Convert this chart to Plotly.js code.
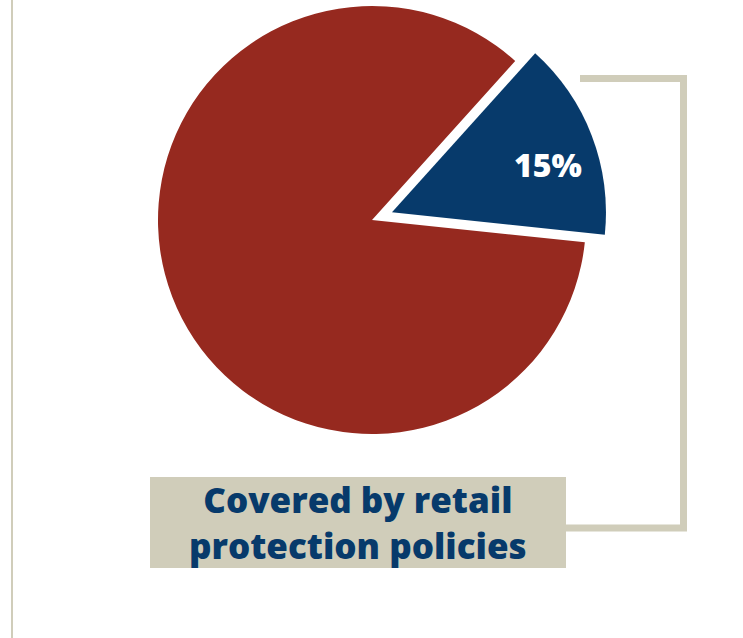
<!DOCTYPE html>
<html>
<head>
<meta charset="utf-8">
<script src="https://cdn.plot.ly/plotly-3.0.1.min.js"></script>
<style>
  html, body { margin: 0; padding: 0; background: #ffffff; overflow: hidden; }
  #chart { position: absolute; left: 0; top: -30px; width: 743px; height: 680px; }
</style>
</head>
<body>
<div id="chart"></div>
<script>
// ---- data ----
const categories = ["Covered by retail protection policies", "Not covered"];
const shares = [15, 85];
const sliceColors = ["#073a6b", "#96291f"];
const sliceLabels = ["15%", ""];
const calloutLines = ["Covered by retail", "protection policies"];

// ---- geometry helpers (page pixels -> paper) ----
const W = 743, H = 680, OFF = 30;
const px = x => x / W;
const py = y => 1 - (y + OFF) / H;

const beige = "#d0cdba";
const navy = "#073a6b";
const FONT = "'Open Sans', sans-serif";

const trace = {
  type: "pie",
  labels: categories,
  values: shares,
  textinfo: "none",
  sort: false,
  direction: "clockwise",
  rotation: 42,
  pull: [0.1, 0],
  marker: { colors: sliceColors, line: { width: 0 } },
  domain: { x: [px(136.6), px(607.4)], y: [py(455.4), py(-15.4)] },
  hoverinfo: "none",
  showlegend: false
};

const layout = {
  width: W, height: H,
  margin: { l: 0, r: 0, t: 0, b: 0 },
  paper_bgcolor: "#ffffff",
  plot_bgcolor: "#ffffff",
  showlegend: false,
  shapes: [
    { type: "line", xref: "paper", yref: "paper",
      x0: px(12), x1: px(12), y0: py(0), y1: py(638),
      line: { color: beige, width: 2 } },
    { type: "path", xref: "paper", yref: "paper",
      path: `M ${px(580)} ${py(78.5)} L ${px(683.5)} ${py(78.5)} L ${px(683.5)} ${py(528)} L ${px(566)} ${py(528)}`,
      line: { color: beige, width: 7 } },
    { type: "rect", xref: "paper", yref: "paper",
      x0: px(150), x1: px(566), y0: py(477), y1: py(568),
      fillcolor: beige, line: { width: 0 } }
  ],
  annotations: [
    { xref: "paper", yref: "paper", x: px(547.5), y: py(164),
      xanchor: "center", yanchor: "middle", showarrow: false,
      text: sliceLabels[0],
      font: { family: FONT, size: 32, color: "#ffffff", weight: 800 } },
    { xref: "paper", yref: "paper", x: px(358), y: py(522),
      xanchor: "center", yanchor: "middle", showarrow: false,
      borderpad: 0,
      text: calloutLines.join("<br>"), align: "center",
      font: { family: FONT, size: 35, color: navy, weight: 800 } }
  ]
};

Plotly.newPlot("chart", [trace], layout, { displayModeBar: false, staticPlot: true });
</script>
</body>
</html>
